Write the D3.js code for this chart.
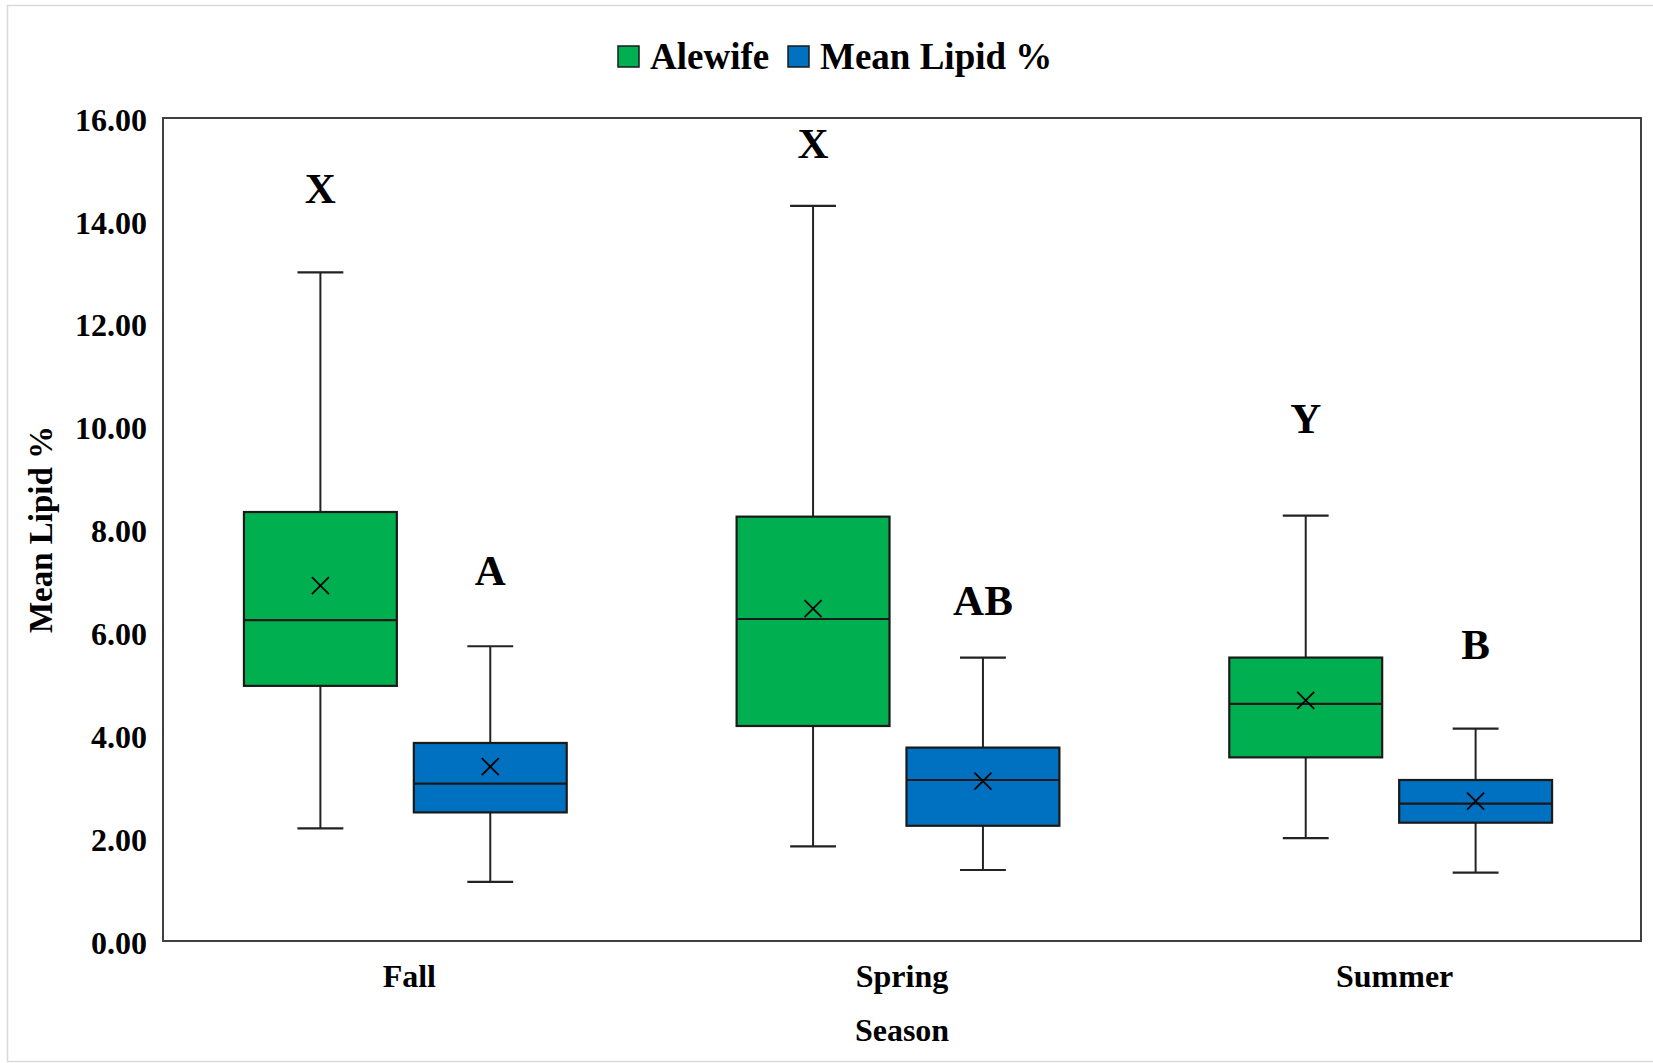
<!DOCTYPE html>
<html>
<head>
<meta charset="utf-8">
<script src="https://cdn.jsdelivr.net/npm/d3@7"></script>
<style>
  html, body { margin: 0; padding: 0; background: #fff; }
  svg { display: block; }
  text { font-family: "Liberation Serif", "Times New Roman", serif; font-weight: bold; fill: #000; }
</style>
</head>
<body>
<svg id="chart" width="1653" height="1063"></svg>
<script>
// Seasons on the x axis and the two plotted series
const categories = ["Fall", "Spring", "Summer"];
const seriesNames = ["Alewife", "Mean Lipid %"];
const seriesColors = ["#00B050", "#0070C0"];

// Alewife box statistics per season
const alewifeMin    = [2.19, 1.84, 2.00];
const alewifeQ1     = [4.96, 4.18, 3.57];
const alewifeMedian = [6.24, 6.26, 4.61];
const alewifeQ3     = [8.34, 8.25, 5.51];
const alewifeMax    = [13.00, 14.29, 8.27];
const alewifeMean   = [6.91, 6.46, 4.68];

// Mean Lipid % box statistics per season
const lipidMin    = [1.15, 1.38, 1.33];
const lipidQ1     = [2.50, 2.24, 2.30];
const lipidMedian = [3.06, 3.13, 2.67];
const lipidQ3     = [3.85, 3.76, 3.13];
const lipidMax    = [5.73, 5.51, 4.13];
const lipidMean   = [3.39, 3.11, 2.72];

// Significance letters and the value at which each sits
const alewifeLetters = ["X", "X", "Y"];
const alewifeLetterAt = [14.34, 15.22, 9.87];
const lipidLetters = ["A", "AB", "B"];
const lipidLetterAt = [6.92, 6.34, 5.48];

// Y axis ticks
const yTicks = [0, 2, 4, 6, 8, 10, 12, 14, 16];

const svg = d3.select("#chart");
const plot = { left: 163, right: 1641, top: 118, bottom: 941 };

// Build one record per box
const stats = [
  { min: alewifeMin, q1: alewifeQ1, med: alewifeMedian, q3: alewifeQ3, max: alewifeMax, mean: alewifeMean, letters: alewifeLetters, letterAt: alewifeLetterAt },
  { min: lipidMin, q1: lipidQ1, med: lipidMedian, q3: lipidQ3, max: lipidMax, mean: lipidMean, letters: lipidLetters, letterAt: lipidLetterAt }
];
const boxes = [];
categories.forEach((c, i) => {
  seriesNames.forEach((s, j) => {
    const st = stats[j];
    boxes.push({
      cat: c, series: s, color: seriesColors[j],
      min: st.min[i], q1: st.q1[i], med: st.med[i], q3: st.q3[i], max: st.max[i], mean: st.mean[i],
      letter: st.letters[i], letterAt: st.letterAt[i]
    });
  });
});

// Outer figure frame
svg.append("rect")
  .attr("x", 7.5).attr("y", 5.5)
  .attr("width", 1700).attr("height", 1056)
  .attr("fill", "none").attr("stroke", "#d9d9d9").attr("stroke-width", 1.5);

// Scales
const y = d3.scaleLinear().domain([0, 16]).range([plot.bottom, plot.top]);
const x0 = d3.scaleBand().domain(categories).range([plot.left, plot.right]);
// the box pair sits a touch left of each category centre
const x1 = d3.scaleBand().domain(seriesNames).range([-4, x0.bandwidth() - 4])
  .paddingInner(0.1).paddingOuter(0.5);
const bw = x1.bandwidth();
const capW = bw * 0.3;

// Y axis labels
const yAxis = svg.append("g")
  .attr("transform", `translate(${plot.left},0)`)
  .call(d3.axisLeft(y).tickValues(yTicks).tickFormat(d => d.toFixed(2)).tickSize(0).tickPadding(16));
yAxis.select(".domain").remove();
yAxis.selectAll("text")
  .attr("dy", "0.38em")
  .style("font-size", "32px")
  .style("font-family", "'Liberation Serif', 'Times New Roman', serif")
  .style("font-weight", "bold")
  .attr("fill", "#000");

// X axis labels
const xAxis = svg.append("g")
  .attr("transform", `translate(0,${plot.bottom})`)
  .call(d3.axisBottom(x0).tickSize(0));
xAxis.select(".domain").remove();
xAxis.selectAll("text")
  .attr("y", 46).attr("dy", 0)
  .style("font-size", "32px")
  .style("font-family", "'Liberation Serif', 'Times New Roman', serif")
  .style("font-weight", "bold")
  .attr("fill", "#000");

// Axis titles
svg.append("text")
  .attr("x", (plot.left + plot.right) / 2).attr("y", 1041)
  .attr("text-anchor", "middle").style("font-size", "32px")
  .text("Season");
svg.append("text")
  .attr("transform", `translate(52,${(plot.top + plot.bottom) / 2}) rotate(-90)`)
  .attr("text-anchor", "middle").style("font-size", "33px")
  .text("Mean Lipid %");

// Boxes
const g = svg.append("g");
const bx = g.selectAll("g.box").data(boxes).join("g")
  .attr("class", "box")
  .attr("transform", d => `translate(${x0(d.cat) + x1(d.series)},0)`);

// Whiskers
bx.append("line")
  .attr("x1", bw / 2).attr("x2", bw / 2)
  .attr("y1", d => y(d.max)).attr("y2", d => y(d.q3))
  .attr("stroke", "#222").attr("stroke-width", 2);
bx.append("line")
  .attr("x1", bw / 2).attr("x2", bw / 2)
  .attr("y1", d => y(d.q1)).attr("y2", d => y(d.min))
  .attr("stroke", "#222").attr("stroke-width", 2);
bx.append("line")
  .attr("x1", bw / 2 - capW / 2).attr("x2", bw / 2 + capW / 2)
  .attr("y1", d => y(d.max)).attr("y2", d => y(d.max))
  .attr("stroke", "#222").attr("stroke-width", 2.2);
bx.append("line")
  .attr("x1", bw / 2 - capW / 2).attr("x2", bw / 2 + capW / 2)
  .attr("y1", d => y(d.min)).attr("y2", d => y(d.min))
  .attr("stroke", "#222").attr("stroke-width", 2.2);

// Interquartile box
bx.append("rect")
  .attr("x", 0).attr("width", bw)
  .attr("y", d => y(d.q3)).attr("height", d => y(d.q1) - y(d.q3))
  .attr("fill", d => d.color)
  .attr("stroke", "#1a1a1a").attr("stroke-width", 2.2);

// Median line
bx.append("line")
  .attr("x1", 0).attr("x2", bw)
  .attr("y1", d => y(d.med)).attr("y2", d => y(d.med))
  .attr("stroke", "#1a1a1a").attr("stroke-width", 2.2);

// Mean marker
const mk = 8.5;
bx.append("path")
  .attr("d", d => {
    const cx = bw / 2, cy = y(d.mean);
    return `M${cx - mk},${cy - mk}L${cx + mk},${cy + mk}M${cx - mk},${cy + mk}L${cx + mk},${cy - mk}`;
  })
  .attr("stroke", "#000").attr("stroke-width", 1.8).attr("fill", "none");

// Significance letters
bx.append("text")
  .attr("x", bw / 2).attr("y", d => y(d.letterAt))
  .attr("text-anchor", "middle").style("font-size", "43px")
  .text(d => d.letter);

// Plot frame
svg.append("rect")
  .attr("x", plot.left).attr("y", plot.top)
  .attr("width", plot.right - plot.left).attr("height", plot.bottom - plot.top)
  .attr("fill", "none").attr("stroke", "#404040").attr("stroke-width", 2);

// Legend
const legendX = [618, 788];
const leg = svg.append("g").selectAll("g").data(seriesNames).join("g")
  .attr("transform", (d, i) => `translate(${legendX[i]},46)`);
leg.append("rect")
  .attr("width", 21).attr("height", 21)
  .attr("fill", (d, i) => seriesColors[i])
  .attr("stroke", "#1a1a1a").attr("stroke-width", 1.5);
leg.append("text")
  .attr("x", 32).attr("y", 23)
  .style("font-size", "37px")
  .text(d => d);
</script>
</body>
</html>
